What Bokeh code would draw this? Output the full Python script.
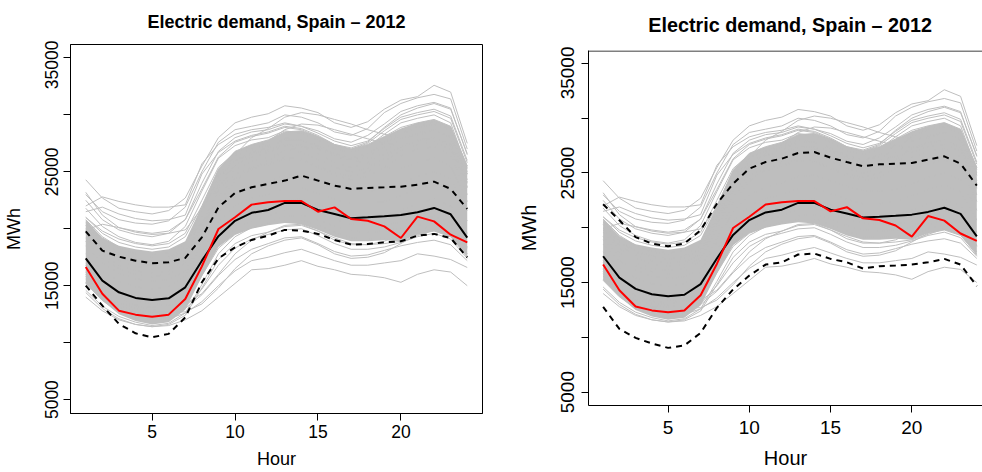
from bokeh.plotting import figure
from bokeh.layouts import row, column
from bokeh.models import Range1d, FixedTicker, Span, Label
from bokeh.embed import file_html
from bokeh.resources import INLINE

# ---------------- data ----------------
hours = list(range(1, 25))

# dense core of the daily curves (solid grey area)
core_lo = [15200, 13700, 12500, 11900, 11600, 11800, 12900, 15800, 18400, 19500, 20000, 20300,
           20500, 20400, 19900, 19300, 18900, 18900, 19000, 18900, 19500, 19800, 19300, 17600]
core_hi = [20800, 19200, 18500, 18200, 18000, 18200, 18900, 22000, 25300, 26800, 27400, 27800,
           28500, 28600, 28100, 27400, 27000, 27400, 28100, 28800, 29300, 29600, 29000, 25500]

# individual daily curves (grey)
day_01 = [24300, 22700, 21800, 21500, 21300, 21600, 22700, 25500, 28000, 29300, 29800, 30100, 30800, 30600, 30200, 29300, 28900, 29400, 30500, 31300, 31600, 32600, 32000, 27500]
day_02 = [23000, 21500, 20800, 20500, 20400, 20700, 21900, 25000, 27600, 28700, 29000, 29300, 30000, 29800, 29300, 28500, 28200, 28800, 30200, 31000, 31500, 31800, 31400, 27000]
day_03 = [22000, 22800, 22400, 22100, 21900, 21900, 22100, 25700, 27400, 28300, 28700, 28900, 29300, 29000, 28600, 27900, 27600, 28200, 29200, 30300, 30800, 31100, 30600, 26500]
day_04 = [22500, 20800, 19900, 19500, 19300, 19600, 20800, 24000, 26800, 28000, 28500, 28700, 29200, 29000, 28400, 27700, 27300, 27700, 28800, 29800, 30200, 30500, 29900, 26000]
day_05 = [20500, 19200, 18300, 17800, 17500, 17500, 18000, 20800, 24000, 26500, 28000, 28800, 29800, 30200, 30000, 29600, 29200, 28700, 28300, 28000, 28200, 28700, 28000, 24800]
day_06 = [21800, 20200, 19300, 18800, 18600, 18900, 20200, 23300, 26200, 27300, 27800, 28000, 28600, 28400, 27800, 27000, 26700, 27200, 28300, 29300, 29700, 30000, 29300, 25300]
day_07 = [21000, 19800, 19100, 18700, 18500, 18700, 19600, 22500, 25400, 26700, 27300, 27600, 28000, 27800, 27200, 26400, 26000, 26300, 27200, 28300, 28900, 29200, 28600, 24800]
day_08 = [20300, 18800, 17900, 17400, 17200, 17400, 18400, 21500, 24500, 25900, 26600, 26900, 27400, 27200, 26600, 25800, 25400, 25800, 26800, 27900, 28400, 28700, 28100, 24300]
day_09 = [19600, 18100, 17200, 16700, 16500, 16700, 17700, 20700, 23700, 25200, 25900, 26300, 26800, 26700, 26100, 25400, 25000, 25300, 26200, 27200, 27800, 28000, 27300, 23600]
day_10 = [18900, 17400, 16500, 16000, 15800, 16000, 17000, 19900, 22900, 24400, 25200, 25600, 26100, 26000, 25400, 24700, 24300, 24600, 25400, 26400, 27000, 27200, 26500, 23000]
day_11 = [17800, 16300, 15400, 14900, 14700, 14900, 15900, 18700, 21500, 23000, 23700, 24100, 24700, 24800, 24300, 23800, 23400, 23300, 23500, 24000, 24600, 25000, 24400, 21600]
day_12 = [17000, 15500, 14600, 14100, 13900, 14100, 15100, 17900, 20600, 22000, 22700, 23000, 23600, 23600, 23100, 22600, 22200, 22200, 22400, 22900, 23500, 23900, 23300, 20700]
day_13 = [16200, 14700, 13800, 13300, 13100, 13300, 14200, 16800, 19400, 20800, 21500, 21900, 22500, 22600, 22100, 21600, 21200, 21100, 21200, 21600, 22200, 22600, 22000, 19600]
day_14 = [15600, 14100, 13100, 12600, 12400, 12600, 13500, 16000, 18600, 20000, 20700, 21100, 21700, 21800, 21400, 20800, 20400, 20300, 20300, 20600, 21200, 21600, 21000, 18800]
day_15 = [14600, 13200, 12300, 11800, 11500, 11700, 12600, 15100, 17800, 19300, 20100, 20500, 21100, 21200, 20800, 20200, 19800, 19700, 19800, 20100, 20700, 21100, 20500, 18300]
day_16 = [16800, 15300, 14300, 13700, 13400, 13300, 13400, 14300, 16000, 17800, 19000, 19700, 20300, 20400, 19800, 19000, 18600, 18600, 18900, 19600, 20300, 20700, 20200, 18400]
day_17 = [16300, 14800, 13800, 13200, 12900, 12700, 12700, 13400, 14800, 16500, 17800, 18500, 19000, 19200, 18600, 17800, 17400, 17500, 17900, 18700, 19500, 19800, 19300, 17600]
day_18 = [14000, 12800, 12000, 11600, 11400, 11500, 12000, 12800, 14000, 15200, 16400, 16500, 16800, 17200, 16700, 16400, 16000, 15900, 15700, 15300, 16000, 16400, 16200, 15000]
day_19 = [15200, 13700, 12700, 12200, 12000, 12100, 12600, 13600, 15000, 16300, 17200, 17500, 17900, 18200, 17700, 17200, 16800, 16800, 17000, 17200, 17800, 17600, 17300, 16600]
day_20 = [15800, 14300, 13300, 12800, 12600, 12600, 13000, 14200, 15900, 17300, 18200, 18700, 19200, 19300, 18700, 18000, 17600, 17700, 18100, 18500, 18800, 19000, 18600, 17200]
day_21 = [18500, 17000, 16100, 15600, 15400, 15500, 16300, 19000, 22300, 24200, 25300, 26000, 26800, 27200, 27000, 26600, 26100, 25700, 25400, 25300, 25800, 26200, 25500, 22400]
day_22 = [19200, 17700, 16800, 16300, 16100, 16300, 17300, 20300, 23400, 24800, 25400, 25700, 26300, 26100, 25500, 24900, 24600, 25000, 25900, 26900, 27400, 27600, 27000, 23700]
day_23 = [21500, 21900, 21300, 20900, 20700, 20800, 21200, 24800, 26700, 27700, 28200, 28500, 29000, 28800, 28200, 27400, 27000, 27500, 28600, 29600, 30000, 30300, 29700, 25800]
day_24 = [20000, 18700, 17800, 17300, 17100, 17200, 18000, 21000, 24100, 25600, 26300, 26700, 27300, 27400, 27000, 26400, 26000, 26100, 26500, 27200, 27700, 28000, 27400, 24100]
day_25 = [21000, 19600, 18800, 18400, 18200, 18400, 19300, 22000, 25200, 26800, 27400, 27800, 28500, 28600, 28100, 27300, 27000, 27400, 28100, 28900, 29300, 29600, 29000, 25500]
day_26 = [20800, 19300, 18400, 17900, 17700, 17900, 18700, 21700, 24600, 26000, 26700, 27100, 27800, 27800, 27300, 26600, 26200, 26600, 27500, 28400, 29000, 29400, 28700, 25000]
day_27 = [19800, 18400, 17500, 17000, 16800, 16900, 17500, 20300, 23600, 25600, 26900, 27700, 28700, 29200, 29100, 28700, 28300, 27900, 27500, 27300, 27600, 28000, 27300, 24000]
day_28 = [15300, 13800, 12800, 12300, 12100, 12300, 13200, 15900, 18300, 19500, 20100, 20400, 20800, 20800, 20300, 19700, 19200, 19100, 19200, 19300, 19900, 20300, 19800, 17800]
day_29 = [14400, 13000, 12100, 11600, 11400, 11600, 12400, 14800, 17300, 18700, 19400, 19700, 20200, 20300, 19800, 19200, 18700, 18600, 18700, 18900, 19400, 19900, 19400, 17500]
day_30 = [16000, 14500, 13500, 13000, 12700, 12700, 13100, 14700, 16800, 18300, 19100, 19500, 19900, 20000, 19400, 18700, 18200, 18200, 18400, 18800, 19300, 19600, 19100, 17400]
day_31 = [23200, 21200, 20100, 19800, 19600, 19800, 20800, 23500, 26300, 27600, 28100, 28400, 28900, 28700, 28100, 27400, 27100, 27600, 28900, 30000, 30600, 31000, 30500, 26600]
day_32 = [19900, 20400, 20100, 19700, 19500, 19600, 19900, 21800, 24800, 26400, 27000, 27300, 27900, 27800, 27300, 26500, 26100, 26500, 27600, 28700, 29200, 29500, 28900, 25500]
gray_days = [day_01, day_02, day_03, day_04, day_05, day_06, day_07, day_08, day_09, day_10,
             day_11, day_12, day_13, day_14, day_15, day_16, day_17, day_18, day_19, day_20,
             day_21, day_22, day_23, day_24, day_25, day_26, day_27, day_28, day_29, day_30,
             day_31, day_32]

mean_curve = [17400, 15450, 14420, 13930, 13750, 13890, 14860, 17200, 19350, 20700, 21400, 21650,
              22270, 22270, 21650, 21300, 20930, 21010, 21100, 21200, 21450, 21830, 21270, 19220]
red_day = [16650, 14300, 12810, 12460, 12280, 12460, 13840, 16700, 19980, 21010, 22120, 22320,
           22440, 22440, 21500, 21880, 20860, 20710, 20210, 19190, 21070, 20650, 19480, 18810]

# left panel bands
left_upper = [19780, 18080, 17550, 17200, 16970, 17060, 17440, 19250, 21880, 23150, 23640, 23940,
              24230, 24670, 24230, 23790, 23500, 23590, 23640, 23700, 23870, 24140, 23500, 21740]
left_lower = [15010, 13250, 11650, 10820, 10470, 10770, 12220, 15300, 17400, 18370, 19020, 19400,
              19900, 19840, 19550, 19020, 18610, 18670, 18810, 18900, 19400, 19550, 19190, 17490]
# right panel bands
right_upper = [22140, 20690, 19150, 18560, 18310, 18560, 19770, 22200, 24030, 25400, 26000, 26310,
               26820, 26910, 26400, 26000, 25610, 25790, 25850, 25910, 26220, 26520, 25850, 23850]
right_lower = [12780, 10770, 9950, 9440, 9040, 9260, 10410, 12690, 14370, 15640, 16640, 16850,
               17560, 17650, 17160, 16850, 16280, 16490, 16550, 16640, 16850, 17160, 16640, 14670]

y_ticks = [5000, 10000, 15000, 20000, 25000, 30000, 35000]
y_tick_labels = {5000: "5000", 10000: "", 15000: "15000", 20000: "", 25000: "25000", 30000: "", 35000: "35000"}
x_ticks = [5, 10, 15, 20]
title_text = "Electric demand, Spain \u2013 2012"
x_title = "Hour"
y_title = "MWh"

GREY = "#BEBEBE"
FONT = "Liberation Sans"
Y_START, Y_END = 3780, 36180
X_END_DATA = 24.92


def style_axis(ax, tick_fs, lab_fs, label_standoff, axis_label_standoff):
    ax.axis_line_color = "black"
    ax.axis_line_width = 1
    ax.major_tick_line_color = "black"
    ax.minor_tick_line_color = None
    ax.major_tick_out = 7
    ax.major_tick_in = 0
    ax.minor_tick_out = 0
    ax.minor_tick_in = 0
    ax.major_label_text_font = FONT
    ax.major_label_text_font_size = tick_fs
    ax.major_label_text_color = "black"
    ax.major_label_standoff = label_standoff
    ax.axis_label_text_font = FONT
    ax.axis_label_text_font_size = lab_fs
    ax.axis_label_text_font_style = "normal"
    ax.axis_label_text_color = "black"
    ax.axis_label_standoff = axis_label_standoff


def make_title_bar(width, bl, br, x_start, x_end, bar_h, baseline_from_top, title_fs):
    t = figure(width=width, height=bar_h, output_backend="svg", toolbar_location=None,
               title=None, x_axis_type=None, y_axis_type=None,
               x_range=Range1d(x_start, x_end), y_range=Range1d(0, bar_h),
               min_border_left=bl, min_border_right=br, min_border_top=0, min_border_bottom=0)
    t.grid.visible = False
    t.outline_line_color = None
    t.background_fill_color = "white"
    t.border_fill_color = "white"
    t.add_layout(Label(x=(x_start + X_END_DATA) / 2, y=bar_h - baseline_from_top, text=title_text,
                       text_align="center", text_baseline="alphabetic", text_font=FONT,
                       text_font_style="bold", text_font_size=title_fs, text_color="black"))
    return t


def make_panel(width, height, bl, br, bt, bb, x_start, x_end, upper, lower, tick_fs, lab_fs,
               full_box, xs_off, xl_off, ys_off, yl_off, frame_h):
    p = figure(width=width, height=height, output_backend="svg", toolbar_location=None, title=None,
               x_range=Range1d(x_start, x_end), y_range=Range1d(Y_START, Y_END),
               min_border_left=bl, min_border_right=br, min_border_top=bt, min_border_bottom=bb)
    p.grid.visible = False
    p.background_fill_color = "white"
    p.border_fill_color = "white"
    p.outline_line_color = "black" if full_box else None
    p.outline_line_width = 1
    if not full_box:
        # top border of the (clipped) box, half a pixel inside the frame
        half_px = (Y_END - Y_START) / frame_h / 2
        p.add_layout(Span(location=Y_END - half_px, dimension="width",
                          line_color="black", line_width=1))

    # grey daily curves
    p.varea(x=hours, y1=core_lo, y2=core_hi, fill_color=GREY, fill_alpha=1.0)
    p.multi_line(xs=[hours] * len(gray_days), ys=gray_days, line_color=GREY, line_width=1)
    # bands, mean, highlighted day
    p.line(hours, upper, line_color="black", line_width=2, line_dash="6 5")
    p.line(hours, lower, line_color="black", line_width=2, line_dash="6 5")
    p.line(hours, mean_curve, line_color="black", line_width=2)
    p.line(hours, red_day, line_color="#FF0000", line_width=2)

    xb = p.below[0]
    yl = p.left[0]
    xb.ticker = FixedTicker(ticks=x_ticks)
    yl.ticker = FixedTicker(ticks=y_ticks)
    yl.major_label_overrides = y_tick_labels
    yl.major_label_orientation = "vertical"
    xb.axis_label = x_title
    yl.axis_label = y_title
    style_axis(xb, tick_fs, lab_fs, xs_off, xl_off)
    style_axis(yl, tick_fs, lab_fs, ys_off, yl_off)
    return p


# left panel: frame x 70..482, y 44..413
t1 = make_title_bar(491, 70, 9, 0.08, 24.92, 40, 21.3, "18px")
p1 = make_panel(491, 432, 70, 9, 4, 59, 0.08, 24.92, left_upper, left_lower,
                "17.5px", "18px", True, 4, 8, 5, 19, 369)
# right panel: frame x 588..(beyond window), y 50..405
t2 = make_title_bar(491, 97, 0, 0.10, 24.35, 46, 24.3, "19.8px")
p2 = make_panel(491, 426, 97, 0, 4, 67, 0.10, 24.35, right_upper, right_lower,
                "19px", "20px", False, 8, 10, 7, 19, 355)

layout = row(column(t1, p1), column(t2, p2))
open("out.html", "w").write(file_html(layout, INLINE))
